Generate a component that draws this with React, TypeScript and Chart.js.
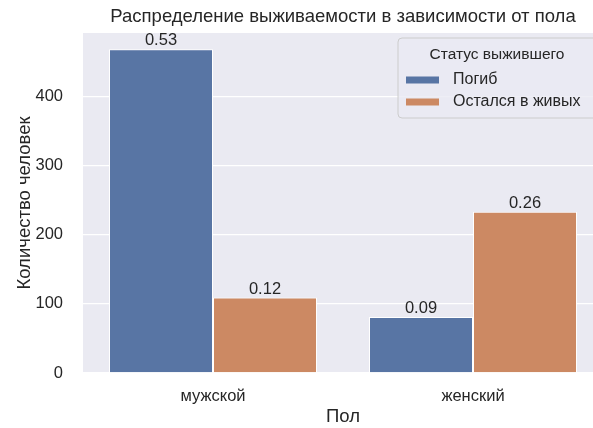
import React, { useEffect, useRef } from "react";
import { Chart, registerables } from "chart.js";

Chart.register(...registerables);

const categories = ["мужской", "женский"];
const seriesNames = ["Погиб", "Остался в живых"];
const diedCounts = [468, 81];
const survivedCounts = [109, 233];
const yTicks = [0, 100, 200, 300, 400];
const colors = ["#5875a4", "#cc8963"];

const titleText = "Распределение выживаемости в зависимости от пола";
const xTitle = "Пол";
const yTitle = "Количество человек";
const legendTitle = "Статус выжившего";

const FONT = "'Liberation Sans', Arial, sans-serif";
const TEXT = "#262626";

const total =
  diedCounts.reduce((a, b) => a + b, 0) + survivedCounts.reduce((a, b) => a + b, 0);

const bgPlugin = {
  id: "bgPlugin",
  beforeDraw(chart: any) {
    const { ctx, chartArea } = chart;
    ctx.save();
    ctx.fillStyle = "#ffffff";
    ctx.fillRect(0, 0, chart.width, chart.height);
    ctx.fillStyle = "#eaeaf2";
    ctx.fillRect(chartArea.left, chartArea.top, chartArea.right - chartArea.left, chartArea.bottom - chartArea.top);
    ctx.restore();
  },
};

const overlayPlugin = {
  id: "overlayPlugin",
  afterDraw(chart: any) {
    const { ctx, chartArea } = chart;
    ctx.save();
    // title
    ctx.fillStyle = TEXT;
    ctx.font = `18.5px ${FONT}`;
    ctx.textAlign = "center";
    ctx.textBaseline = "middle";
    ctx.fillText(titleText, (chartArea.left + chartArea.right) / 2, 17);

    // bar labels
    ctx.font = `16.5px ${FONT}`;
    ctx.textBaseline = "bottom";
    chart.data.datasets.forEach((ds: any, di: number) => {
      const meta = chart.getDatasetMeta(di);
      meta.data.forEach((bar: any, i: number) => {
        const v = ds.data[i] as number;
        ctx.fillText((v / total).toFixed(2), bar.x, bar.y);
      });
    });

    // legend
    const lx = 398;
    const ly = 38;
    const lw = 199;
    const lh = 80;
    const r = 4;
    ctx.beginPath();
    ctx.moveTo(lx + r, ly);
    ctx.lineTo(lx + lw - r, ly);
    ctx.quadraticCurveTo(lx + lw, ly, lx + lw, ly + r);
    ctx.lineTo(lx + lw, ly + lh - r);
    ctx.quadraticCurveTo(lx + lw, ly + lh, lx + lw - r, ly + lh);
    ctx.lineTo(lx + r, ly + lh);
    ctx.quadraticCurveTo(lx, ly + lh, lx, ly + lh - r);
    ctx.lineTo(lx, ly + r);
    ctx.quadraticCurveTo(lx, ly, lx + r, ly);
    ctx.closePath();
    ctx.fillStyle = "rgba(234,234,242,0.8)";
    ctx.fill();
    ctx.strokeStyle = "#cccccc";
    ctx.lineWidth = 1;
    ctx.stroke();

    ctx.fillStyle = TEXT;
    ctx.font = `15.5px ${FONT}`;
    ctx.textAlign = "center";
    ctx.textBaseline = "middle";
    ctx.fillText(legendTitle, 497, 55);

    ctx.font = `16px ${FONT}`;
    ctx.textAlign = "left";
    seriesNames.forEach((name, i) => {
      const cy = 80 + i * 22;
      ctx.fillStyle = colors[i];
      ctx.fillRect(406, cy - 3.5, 33, 7);
      ctx.fillStyle = TEXT;
      ctx.fillText(name, 453, cy);
    });
    ctx.restore();
  },
};

export default function App() {
  const ref = useRef<HTMLCanvasElement | null>(null);

  useEffect(() => {
    if (!ref.current) return;
    const chart = new Chart(ref.current, {
      type: "bar",
      data: {
        labels: categories,
        datasets: [
          {
            label: seriesNames[0],
            data: diedCounts,
            backgroundColor: colors[0],
            borderColor: "#ffffff",
            borderWidth: 1,
            categoryPercentage: 0.8,
            barPercentage: 1.0,
          },
          {
            label: seriesNames[1],
            data: survivedCounts,
            backgroundColor: colors[1],
            borderColor: "#ffffff",
            borderWidth: 1,
            categoryPercentage: 0.8,
            barPercentage: 1.0,
          },
        ],
      },
      options: {
        animation: false,
        responsive: false,
        devicePixelRatio: 1,
        layout: { padding: { top: 33, right: 10, left: 0, bottom: 0 } },
        plugins: {
          legend: { display: false },
          title: { display: false },
          tooltip: { enabled: false },
        },
        scales: {
          x: {
            grid: { display: false, drawTicks: false },
            border: { display: false },
            ticks: { color: TEXT, font: { family: FONT, size: 16.5 }, padding: 14 },
            title: {
              display: true,
              text: xTitle,
              color: TEXT,
              font: { family: FONT, size: 18.5 },
              padding: { top: 0, bottom: 0 },
            },
            afterFit: (s: any) => {
              s.height = 55;
            },
          },
          y: {
            min: 0,
            max: 491.4,
            grid: { color: "#ffffff", lineWidth: 1.3, drawTicks: false },
            border: { display: false },
            ticks: {
              color: TEXT,
              font: { family: FONT, size: 16.5 },
              padding: 20,
              stepSize: 100,
              includeBounds: false,
            },
            afterBuildTicks: (s: any) => {
              s.ticks = yTicks.map((v) => ({ value: v }));
            },
            title: {
              display: true,
              text: yTitle,
              color: TEXT,
              font: { family: FONT, size: 18.5 },
              padding: { top: 14, bottom: 0 },
            },
            afterFit: (s: any) => {
              s.width = 83;
            },
          },
        },
      },
      plugins: [bgPlugin, overlayPlugin],
    });
    return () => chart.destroy();
  }, []);

  return (
    <div
      style={{
        position: "fixed",
        left: 0,
        top: 0,
        width: 593,
        height: 428,
        overflow: "hidden",
        background: "#ffffff",
      }}
    >
      <canvas ref={ref} width={613} height={428} style={{ width: 613, height: 428, display: "block" }} />
    </div>
  );
}
